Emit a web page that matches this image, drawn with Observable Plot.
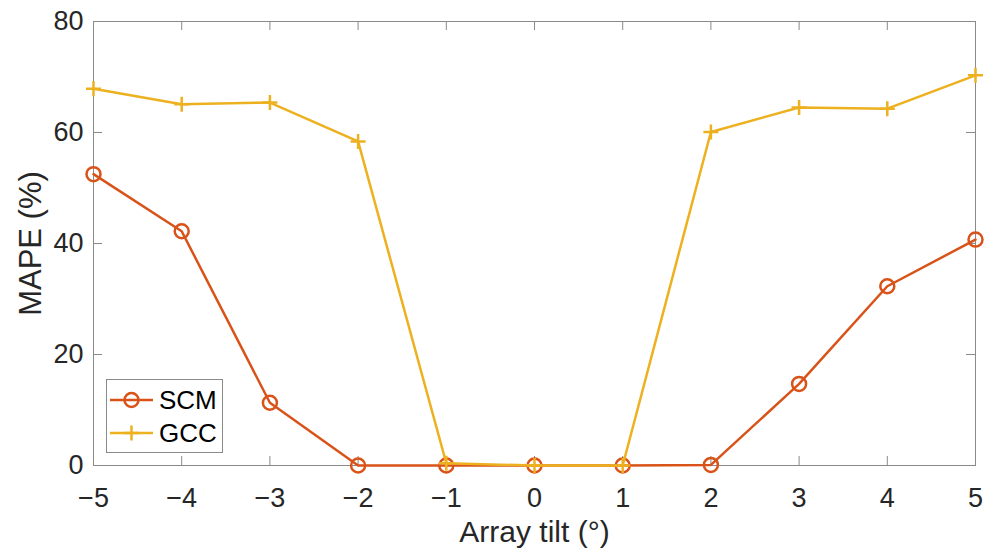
<!DOCTYPE html>
<html><head><meta charset="utf-8">
<script src="https://cdn.jsdelivr.net/npm/d3@7"></script>
<script src="https://cdn.jsdelivr.net/npm/@observablehq/plot@0.6"></script>
<style>
body{margin:0;background:#fff;}
#wrap{position:relative;width:992px;height:550px;}
#legend{position:absolute;left:106px;top:379px;}
</style></head><body><div id="wrap"><div id="legend"></div></div>
<script>
const tilt = [-5, -4, -3, -2, -1, 0, 1, 2, 3, 4, 5];
const scm = [52.5, 42.2, 11.3, 0, 0, 0, 0, 0.1, 14.7, 32.3, 40.7];
const gcc = [67.9, 65.1, 65.4, 58.4, 0.4, 0, 0, 60.1, 64.5, 64.3, 70.3];
const seriesNames = ["SCM", "GCC"];
const seriesColors = ["#D95319", "#EDB120"];
const xTicks = [-5, -4, -3, -2, -1, 0, 1, 2, 3, 4, 5];
const yTicks = [0, 20, 40, 60, 80];
const xLabel = "Array tilt (°)";
const yLabel = "MAPE (%)";

const W = 992, H = 550, mL = 93, mR = 17, mT = 21, mB = 85;
const iw = W - mL - mR, ih = H - mT - mB, tk = 9;
const font = "'Liberation Sans', Arial, Helvetica, sans-serif";
const axisCol = "#8a8a8a", textCol = "#262626";
const lw = 2.5, plusR = 4.9;

const data = tilt.map((t, i) => ({tilt: t, scm: scm[i], gcc: gcc[i]}));

const chart = Plot.plot({
  width: W, height: H,
  marginLeft: mL, marginRight: mR, marginTop: mT, marginBottom: mB,
  style: {fontFamily: font, background: "#fff"},
  x: {domain: [-5, 5]},
  y: {domain: [0, 80]},
  marks: [
    Plot.frame({stroke: axisCol, strokeWidth: 1}),
    Plot.tickX(xTicks, {x: d => d, insetTop: ih - tk, stroke: axisCol}),
    Plot.tickX(xTicks, {x: d => d, insetBottom: ih - tk, stroke: axisCol}),
    Plot.tickY(yTicks, {y: d => d, insetRight: iw - tk, stroke: axisCol}),
    Plot.tickY(yTicks, {y: d => d, insetLeft: iw - tk, stroke: axisCol}),
    Plot.axisX({ticks: xTicks, tickSize: 0, tickPadding: 22, fontSize: 27, fill: textCol, label: null}),
    Plot.axisY({ticks: yTicks, tickSize: 0, tickPadding: 10, fontSize: 27, fill: textCol, label: null}),
    Plot.text([xLabel], {frameAnchor: "bottom", lineAnchor: "middle", textAnchor: "middle", dy: 67, fontSize: 30, fill: textCol}),
    Plot.text([yLabel], {frameAnchor: "left", lineAnchor: "middle", textAnchor: "middle", dx: -62, rotate: -90, fontSize: 31, fill: textCol}),
    Plot.line(data, {x: "tilt", y: "scm", stroke: seriesColors[0], strokeWidth: lw}),
    Plot.dot(data, {x: "tilt", y: "scm", symbol: "circle", r: 7, stroke: seriesColors[0], strokeWidth: lw, fill: "none"}),
    Plot.line(data, {x: "tilt", y: "gcc", stroke: seriesColors[1], strokeWidth: lw}),
    Plot.dot(data, {x: "tilt", y: "gcc", symbol: "plus", r: plusR, stroke: seriesColors[1], strokeWidth: lw})
  ]
});
document.getElementById("wrap").prepend(chart);

// legend
const lg = d3.select("#legend").append("svg").attr("width", 117).attr("height", 74)
  .style("font-family", font);
lg.append("rect").attr("x", 0.5).attr("y", 0.5).attr("width", 116).attr("height", 73)
  .attr("fill", "#fff").attr("stroke", axisCol);
seriesNames.forEach((name, i) => {
  const cy = 21 + i * 33;
  const g = lg.append("g");
  g.append("line").attr("x1", 4).attr("x2", 47).attr("y1", cy).attr("y2", cy)
    .attr("stroke", seriesColors[i]).attr("stroke-width", lw);
  if (i === 0) {
    g.append("circle").attr("cx", 25.5).attr("cy", cy).attr("r", 7)
      .attr("fill", "none").attr("stroke", seriesColors[i]).attr("stroke-width", lw);
  } else {
    g.append("path").attr("d", d3.symbol(d3.symbolPlus, Math.PI * plusR * plusR)())
      .attr("transform", `translate(25.5,${cy})`)
      .attr("fill", "none").attr("stroke", seriesColors[i]).attr("stroke-width", lw);
  }
  g.append("text").attr("x", 53).attr("y", cy).attr("dy", "0.36em")
    .attr("font-size", 26).attr("fill", "#000").text(name);
});
</script></body></html>
